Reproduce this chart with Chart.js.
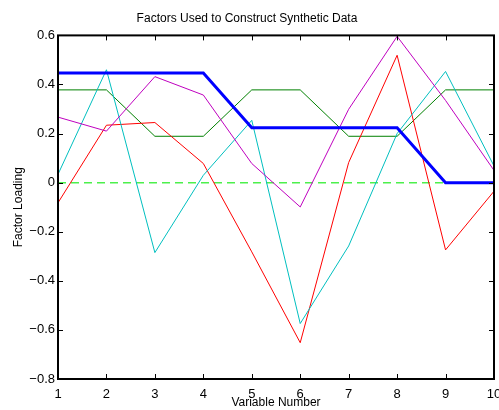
<!DOCTYPE html>
<html>
<head>
<meta charset="utf-8">
<script src="https://cdn.jsdelivr.net/npm/chart.js@4"></script>
<style>
  html, body { margin: 0; padding: 0; background: #fff; }
  #wrap { width: 499px; height: 410px; }
</style>
</head>
<body>
<div id="wrap"><canvas id="chart" width="499" height="410"></canvas></div>
<script>
const variables = [1, 2, 3, 4, 5, 6, 7, 8, 9, 10];
const factorBlue = [0.447, 0.447, 0.447, 0.447, 0.224, 0.224, 0.224, 0.224, 0, 0];
const factorZero = [0, 0, 0, 0, 0, 0, 0, 0, 0, 0];
const factorGreen = [0.378, 0.378, 0.189, 0.189, 0.378, 0.378, 0.189, 0.189, 0.378, 0.378];
const factorRed = [-0.082, 0.234, 0.245, 0.078, -0.282, -0.652, 0.082, 0.519, -0.274, -0.035];
const factorCyan = [0.034, 0.46, -0.285, 0.03, 0.254, -0.574, -0.258, 0.2, 0.453, 0.068];
const factorMagenta = [0.267, 0.21, 0.432, 0.357, 0.078, -0.099, 0.299, 0.596, 0.335, 0.05];
const yTicks = [-0.8, -0.6, -0.4, -0.2, 0, 0.2, 0.4, 0.6];

const pts = arr => variables.map((v, i) => ({ x: v, y: arr[i] }));
const font = "'Liberation Sans', Arial, Helvetica, sans-serif";

// box round the plot with inward tick marks
const frame = {
  id: "frame",
  afterDraw(chart) {
    const ctx = chart.ctx;
    const a = chart.chartArea;
    const xs = chart.scales.x, ys = chart.scales.y;
    ctx.save();
    ctx.strokeStyle = "#000";
    ctx.lineWidth = 1;
    ctx.beginPath();
    variables.forEach(v => {
      const px = Math.round(xs.getPixelForValue(v)) + 0.5;
      ctx.moveTo(px, a.bottom); ctx.lineTo(px, a.bottom - 5);
      ctx.moveTo(px, a.top); ctx.lineTo(px, a.top + 5);
    });
    yTicks.forEach(v => {
      const py = Math.round(ys.getPixelForValue(v)) + 0.5;
      ctx.moveTo(a.left, py); ctx.lineTo(a.left + 5, py);
      ctx.moveTo(a.right, py); ctx.lineTo(a.right - 5, py);
    });
    ctx.stroke();
    ctx.lineWidth = 2;
    ctx.strokeRect(a.left, a.top, a.right - a.left, a.bottom - a.top);
    ctx.restore();
  }
};

// chart.js paints dataset 0 on top, so the thick blue factor comes first
new Chart(document.getElementById("chart"), {
  type: "line",
  data: {
    datasets: [
      { data: pts(factorBlue), borderColor: "#0000ff", borderWidth: 3 },
      { data: pts(factorMagenta), borderColor: "#bf00bf", borderWidth: 1 },
      { data: pts(factorCyan), borderColor: "#00bfbf", borderWidth: 1 },
      { data: pts(factorRed), borderColor: "#ff0000", borderWidth: 1 },
      { data: pts(factorGreen), borderColor: "#008000", borderWidth: 1 },
      { data: pts(factorZero), borderColor: "#4cf04c", borderWidth: 1.5, borderDash: [8, 5] },
    ],
  },
  options: {
    responsive: false,
    animation: false,
    elements: { point: { radius: 0 }, line: { tension: 0 } },
    layout: { padding: { top: 0, left: 0, right: 5, bottom: 0 } },
    plugins: {
      legend: { display: false },
      tooltip: { enabled: false },
      title: {
        display: true,
        text: "Factors Used to Construct Synthetic Data",
        color: "#000",
        font: { family: font, size: 12, weight: "normal" },
        padding: { top: 11, bottom: 10 },
      },
    },
    scales: {
      x: {
        type: "linear",
        min: 1,
        max: 10,
        grid: { display: false, drawTicks: false, tickLength: 0 },
        border: { display: false },
        ticks: { stepSize: 1, color: "#000", font: { family: font, size: 13 }, padding: 8, maxRotation: 0 },
        title: { display: true, text: "Variable Number", color: "#000", font: { family: font, size: 12 }, padding: 0 },
        afterFit(s) { s.height = 31; s.paddingLeft = 0; s.paddingRight = 0; },
      },
      y: {
        min: -0.8,
        max: 0.6,
        grid: { display: false, drawTicks: false, tickLength: 0 },
        border: { display: false },
        ticks: {
          stepSize: 0.2,
          color: "#000",
          font: { family: font, size: 13 },
          padding: 3,
          callback: v => {
            const r = Math.round(v * 10) / 10;
            return r < 0 ? "\u2212" + Math.abs(r).toFixed(1) : r === 0 ? "0" : r.toFixed(1);
          },
        },
        title: { display: true, text: "Factor Loading", color: "#000", font: { family: font, size: 12 }, padding: { top: 11, bottom: 0 } },
        afterFit(s) { s.width = 58; s.paddingTop = 0; s.paddingBottom = 0; },
      },
    },
  },
  plugins: [frame],
});
</script>
</body>
</html>
